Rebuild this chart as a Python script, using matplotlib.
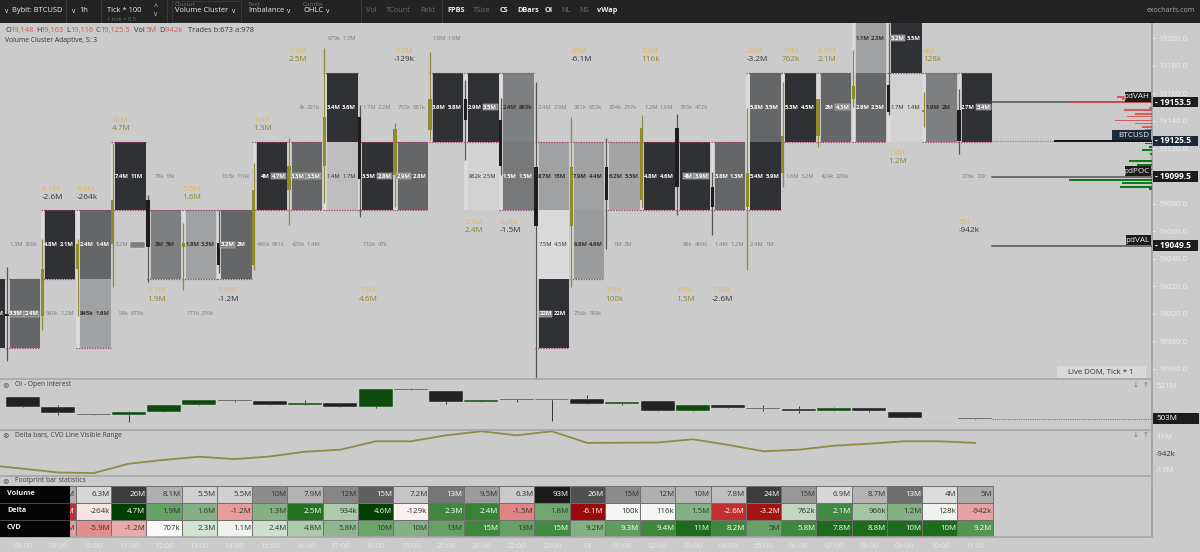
import matplotlib
matplotlib.use('Agg')
import matplotlib.pyplot as plt
import numpy as np
from matplotlib.colors import LinearSegmentedColormap
from matplotlib.patches import Rectangle
from matplotlib.transforms import blended_transform_factory

plt.rcParams['font.family'] = ['Open Sans', 'DejaVu Sans']

# candles, one per hour, 08:00 is bar 0
bars = np.arange(0, 28)
opens = [18999.5, 18998.4, 19032.5, 19050.7, 19082.6, 19048.4, 19051.4, 19035.4, 19089.9, 19107.3,
         19142.9, 19100.7, 19133.4, 19156.0, 19140.7, 19106.6, 19063.7, 19106.6, 19082.6, 19134.9,
         19092.0, 19077.5, 19102.2, 19129.0, 19156.0, 19166.0, 19146.5, 19148.0]
highs = [19034.0, 19054.0, 19054.0, 19124.0, 19086.3, 19066.0, 19075.3, 19109.5, 19127.6, 19193.0,
         19151.6, 19138.5, 19190.0, 19170.0, 19156.7, 19168.0, 19142.9, 19127.6, 19144.3, 19145.0,
         19102.9, 19149.4, 19168.0, 19156.0, 19191.5, 19211.0, 19161.0, 19163.0]
lows = [18966.0, 18988.0, 18998.4, 19019.4, 19023.0, 19017.3, 19029.6, 19031.8, 19064.5, 19080.4,
        19070.3, 19077.5, 19126.2, 19111.6, 19100.7, 18953.4, 19019.4, 19047.0, 19076.8, 19071.7,
        19057.0, 19031.8, 19092.0, 19121.0, 19150.1, 19144.3, 19135.6, 19116.0]
closes = [18998.5, 19032.5, 19050.7, 19082.6, 19048.4, 19051.4, 19035.4, 19089.9, 19107.3, 19142.9,
          19097.9, 19134.2, 19156.0, 19140.7, 19107.3, 19063.7, 19106.6, 19082.6, 19134.9, 19092.0,
          19077.5, 19102.2, 19129.0, 19156.0, 19165.4, 19146.5, 19148.0, 19125.5]

# footprint cells: bar, price row, bid, ask, shade (nan = no box), imbalance side
cell_bar = [-1, 0, 0, 1, 1, 2, 2, 3, 3, 3, 4, 4, 5, 5, 6, 6, 7, 7, 8, 8, 8, 9, 9, 9, 10, 10, 10, 11, 11,
            12, 12, 13, 13, 14, 14, 15, 15, 15, 15, 16, 16, 16, 16, 17, 17, 17, 18, 18, 19, 19, 19,
            20, 20, 21, 21, 21, 22, 22, 23, 23, 24, 24, 25, 25, 26, 27, 27]
cell_row = [19000, 19050, 19000, 19050, 19000, 19050, 19000, 19100, 19050, 19000, 19100, 19050, 19050, 19000,
            19100, 19050, 19100, 19050, 19150, 19100, 19050, 19200, 19150, 19100, 19150, 19100, 19050,
            19150, 19100, 19200, 19150, 19150, 19100, 19150, 19100, 19150, 19100, 19050, 19000,
            19150, 19100, 19050, 19000, 19150, 19100, 19050, 19150, 19100, 19150, 19100, 19050,
            19100, 19050, 19150, 19100, 19050, 19150, 19100, 19150, 19100, 19200, 19150, 19200, 19150,
            19150, 19150, 19100]
cell_bid = ['3.1M', '1.3M', '3.3M', '4.8M', '980k', '2.4M', '845k', '7.4M', '3.2M', '54k', '78k', '3M', '1.8M',
            '171k', '163k', '3.2M', '4M', '445k', '4k', '3.3M', '425k', '870k', '3.4M', '1.4M', '1.7M', '3.5M',
            '132k', '765k', '2.9M', '1.8M', '3.6M', '2.9M', '862k', '2.4M', '1.5M', '2.4M', '8.7M', '7.5M',
            '22M', '381k', '7.9M', '6.8M', '756k', '304k', '6.2M', '1M', '1.2M', '4.8M', '395k', '4M', '98k',
            '3.8M', '1.4M', '5.8M', '5.4M', '2.4M', '5.3M', '1.6M', '2M', '424k', '1.1M', '2.8M', '3.2M',
            '1.7M', '1.9M', '2.7M', '276k']
cell_ask = ['2.9M', '309k', '2.4M', '2.1M', '1.2M', '1.4M', '1.6M', '11M', '3.3M', '675k', '18k', '5M', '3.3M',
            '276k', '116k', '2M', '4.7M', '981k', '291k', '3.5M', '1.4M', '1.3M', '3.6M', '1.7M', '2.2M', '2.8M',
            '47k', '681k', '2.8M', '1.9M', '5.8M', '3.5M', '2.5M', '893k', '1.5M', '2.9M', '13M', '4.5M',
            '22M', '653k', '4.4M', '4.6M', '189k', '237k', '5.5M', '2M', '1.6M', '4.6M', '472k', '3.9M', '499k',
            '1.3M', '1.2M', '3.5M', '5.9M', '1M', '4.5M', '3.2M', '4.3M', '229k', '2.3M', '2.5M', '5.5M',
            '1.4M', '2M', '3.4M', '72k']
n = np.nan
cell_shade = [1, n, .7, 1, n, .7, .37, 1, n, n, n, .56, .37, n, n, .7, 1, n, n, .7, n, n, 1, .21, n, 1, n, n, .7,
              n, 1, 1, .09, .56, .6, n, .37, .05, 1, n, .37, .4, n, n, .35, n, n, 1, n, 1, n,
              .7, n, .7, 1, n, 1, n, .7, n, .37, .7, 1, .09, .56, 1, n]
cell_imb = ['', '', 'ab', '', '', '', '', '', 'a', '', '', '', '', '', '', 'b', 'a', '', '', 'ab', '', '', '', '', '', 'a',
            '', '', 'b', '', '', 'a', '', '', '', '', '', '', 'b', '', '', '', '', '', '', '', '', '', '', 'ab', '',
            '', '', '', '', '', '', '', 'a', '', '', '', 'b', '', '', 'a', '']

# volume / delta labels next to the clusters
label_bars = [1, 2, 3, 4, 5, 6, 7, 8, 10, 11, 13, 14, 16, 17, 18, 19, 20, 21, 22, 23, 25, 26, 27]
label_edge = [19075, 19075, 19125, 19025, 19075, 19025, 19125, 19175, 19025, 19175, 19075, 19075, 19175,
              19025, 19175, 19025, 19025, 19175, 19175, 19175, 19125, 19175, 19075]
label_above = [1, 1, 1, 0, 1, 0, 1, 1, 0, 1, 0, 0, 1, 0, 1, 0, 0, 1, 1, 1, 0, 1, 0]

# stats table, starts at bar 1 (09:00)
volume_labels = ['8.1M', '6.3M', '26M', '8.1M', '5.5M', '5.5M', '10M', '7.9M', '12M', '15M', '7.2M', '13M', '9.5M', '6.3M',
                 '93M', '26M', '15M', '12M', '10M', '7.8M', '24M', '15M', '6.9M', '8.7M', '13M', '4M', '5M']
delta_labels = ['-2.6M', '-264k', '4.7M', '1.9M', '1.6M', '-1.2M', '1.3M', '2.5M', '934k', '4.6M', '-129k', '2.3M', '2.4M',
                '-1.5M', '1.8M', '-6.1M', '100k', '116k', '1.5M', '-2.6M', '-3.2M', '762k', '2.1M', '966k', '1.2M',
                '128k', '-942k']
cvd_labels = ['-5.6M', '-5.9M', '-1.2M', '707k', '2.3M', '1.1M', '2.4M', '4.8M', '5.8M', '10M', '10M', '13M', '15M', '13M',
              '15M', '9.2M', '9.3M', '9.4M', '11M', '8.2M', '5M', '5.8M', '7.8M', '8.8M', '10M', '10M', '9.2M']
volume_shade = [.3, .12, .8, .3, .15, .15, .45, .28, .48, .65, .2, .55, .38, .18, .95, .72, .45, .3, .27, .23, .8, .4,
                .12, .28, .58, .1, .32]
delta_shade = [-.62, -.06, 1, .55, .42, -.25, .42, .82, .28, 1, -.03, .7, .72, -.33, .5, -1, .03, .03, .42, -.62, -.9,
               .2, .68, .3, .42, .04, -.22]
cvd_shade = [-.25, -.3, -.2, .01, .14, .04, .15, .28, .38, .52, .42, .55, .7, .55, .68, .42, .58, .7, .85, .7, .55, .7,
             .85, .85, .85, .85, .62]
time_labels = ['08:00', '09:00', '10:00', '11:00', '12:00', '13:00', '14:00', '15:00', '16:00', '17:00', '18:00',
               '19:00', '20:00', '21:00', '22:00', '23:00', '13', '01:00', '02:00', '03:00', '04:00', '05:00',
               '06:00', '07:00', '08:00', '09:00', '10:00', '11:00']

cvd_bars = np.arange(-1, 28)
cvd_line = [-1.9, -3.7, -5.6, -5.9, -1.2, 0.7, 2.3, 1.1, 2.4, 4.8, 5.8, 10, 10, 13, 15, 13, 15, 9.2, 9.3, 9.4, 11, 8.2,
            5, 5.8, 7.8, 8.8, 10, 10, 9.2]

# open interest, millions
oi_open = [515.0, 509.0, 505.4, 504.9, 506.4, 510.3, 513.1, 512.6, 510.3, 511.4, 509.2, 519.5, 518.4, 512.2, 513.7,
           513.1, 513.9, 510.9, 512.4, 507.1, 510.1, 508.8, 508.0, 506.9, 508.4, 506.5, 502.8, 503.0]
oi_high = [515.0, 510.1, 505.4, 506.9, 510.1, 512.9, 513.1, 512.6, 512.9, 511.4, 519.5, 519.9, 518.4, 512.9, 513.7,
           513.7, 515.9, 512.2, 512.4, 510.1, 510.1, 510.3, 509.7, 509.2, 508.4, 506.5, 503.0, 503.0]
oi_low = [509.4, 504.7, 504.7, 500.9, 506.4, 510.3, 511.8, 510.3, 510.3, 509.2, 508.7, 518.5, 510.7, 512.2, 512.2,
          501.3, 510.9, 510.5, 507.1, 506.9, 508.4, 506.9, 505.8, 506.9, 506.6, 502.8, 502.8, 502.4]
oi_close = [509.4, 505.6, 504.7, 506.2, 510.1, 512.9, 512.7, 510.3, 511.4, 509.2, 519.5, 518.5, 512.2, 512.9, 512.9,
            513.7, 510.9, 512.2, 507.1, 510.1, 508.8, 508.0, 506.9, 508.4, 506.9, 502.8, 503.0, 502.6]

# resting orders on the right of the price scale
dom_ask_price = [19157.5, 19156.0, 19153.5, 19149.5, 19148.0, 19145.0, 19143.0, 19140.5, 19138.0, 19135.5, 19133.5]
dom_ask_size = [35, 30, 83, 3, 28, 17, 25, 37, 17, 10, 7]
dom_bid_price = [19123.5, 19121.0, 19119.0, 19116.0, 19111.0, 19108.0, 19104.5, 19101.0, 19097.0, 19095.0, 19092.0, 19090.5]
dom_bid_size = [7, 3, 10, 2, 23, 15, 7, 17, 83, 30, 32, 3]

# 19100 sits fully behind the pdPOC tag in the reference
price_ticks = [18960, 18980, 19000, 19020, 19040, 19060, 19080, 19120, 19140, 19160, 19180, 19200]
levels = {'pdVAH': 19153.5, 'pdPOC': 19099.5, 'pdVAL': 19049.5}
last_price = 19125.5

BG = '#cbcbcb'
OLIVE = '#8f8a2a'
DARK = '#222222'
BOX_L, BOX_R = -13.8 / 35.26, 17.2 / 35.26
CANDLE_X = -16 / 35.26
XLIM = (-23 / 35.26, (1152 - 23) / 35.26)


def panel(x0, y0, x1, y1):
    ax = fig.add_axes([x0 / 1200, 1 - y1 / 552, (x1 - x0) / 1200, (y1 - y0) / 552])
    ax.set_facecolor('none')
    ax.set_xlim(*XLIM)
    ax.set_xticks([])
    ax.set_yticks([])
    for s in ax.spines.values():
        s.set_visible(False)
    return ax


def ftext(x, y, s, **kw):
    kw.setdefault('va', 'center')
    fig.text(x / 1200, 1 - y / 552, s, **kw)


def frect(x0, y0, x1, y1, **kw):
    fig.add_artist(Rectangle((x0 / 1200, 1 - y1 / 552), (x1 - x0) / 1200, (y1 - y0) / 552,
                             transform=fig.transFigure, **kw))


fig = plt.figure(figsize=(12, 5.52), dpi=100, facecolor=BG)

# ---------- main footprint panel
ax = panel(0, 23, 1152, 379)
ax.set_ylim(18952.6, 19211.1)

shade_cmap = LinearSegmentedColormap.from_list('boxes', ['#e2e2e2', '#2f3134'])
for b, r, bid, ask, s, imb in zip(cell_bar, cell_row, cell_bid, cell_ask, cell_shade, cell_imb):
    boxed = not np.isnan(s)
    if boxed:
        ax.add_patch(Rectangle((b + BOX_L, r - 25), BOX_R - BOX_L, 50, fc=shade_cmap(float(s)), ec='none', zorder=2))
    col = '#7c7c7c'
    if boxed:
        col = '#ffffff' if s >= 0.6 else '#303030'
    for side, txt, ha, off in (('b', bid, 'right', 0.0), ('a', ask, 'left', 0.05)):
        t = ax.text(b + off, r, txt, ha=ha, va='center', fontsize=4.2, color=col, clip_on=True, zorder=5,
                    fontweight='bold' if boxed and s >= 0.35 else 'normal')
        if side in imb:
            t.set_bbox(dict(fc='#7d7f81', ec='#e8e8e8', lw=0.3, pad=0.4))

# value area dotted edges and light gap behind each candle
for i in bars:
    stack = [r for b, r, s in zip(cell_bar, cell_row, cell_shade) if b == i and s >= 0.15]
    allb = [r for b, r, s in zip(cell_bar, cell_row, cell_shade) if b == i and not np.isnan(s)]
    if allb:
        ax.plot([i + CANDLE_X + 0.02] * 2, [min(allb) - 25, max(allb) + 25], color='#dcdcdc', lw=2.6,
                solid_capstyle='butt', zorder=2.5)
    if stack:
        for edge in (min(stack) - 25, max(stack) + 25):
            ax.plot([i + BOX_L - 0.1, i + BOX_R], [edge, edge], color='#a8386f', lw=0.9, ls=(0, (1, 1.1)), zorder=3)

up = np.array(closes) >= np.array(opens)
candle_col = [OLIVE if u else '#1d1d1d' for u in up]
wick_col = ['#8f8a3a' if u else '#555555' for u in up]
ax.vlines(bars + CANDLE_X, lows, highs, colors=wick_col, lw=0.9, zorder=4)
ax.bar(bars + CANDLE_X, np.abs(np.array(closes) - np.array(opens)), bottom=np.minimum(opens, closes),
       width=3.3 / 35.26, color=candle_col, zorder=4)

for b, edge, above in zip(label_bars, label_edge, label_above):
    vol, dlt = volume_labels[b - 1], delta_labels[b - 1]
    x = b + CANDLE_X - 0.02
    off_v, off_d = (15.2, 9.3) if above else (-8.4, -14.2)
    dcol = '#333333' if dlt.startswith('-') else '#8a8530'
    ax.annotate(vol, (x, edge), xytext=(0, off_v), textcoords='offset points', ha='left', va='center',
                fontsize=5.9, color='#dcba5e', zorder=6, annotation_clip=False)
    ax.annotate(dlt, (x, edge), xytext=(0, off_d), textcoords='offset points', ha='left', va='center',
                fontsize=5.9, color=dcol, zorder=6, annotation_clip=False)

# price scale
ax.yaxis.tick_right()
ax.set_yticks(price_ticks)
ax.set_yticklabels(['%.1f' % p for p in price_ticks])
ax.tick_params(axis='y', length=2.5, width=0.8, color='#eeeeee', labelcolor='#eeeeee', labelsize=5.7, pad=2)
ax.spines['right'].set_visible(True)
ax.spines['right'].set_color('#a6a6a6')
ax.spines['right'].set_linewidth(1.5)

# resting orders and previous day levels, tags go on this top axes
dom = panel(0, 23, 1152, 379)
dom.set_ylim(ax.get_ylim())
dom.set_xlim(1152, 0)
dom.barh(dom_ask_price, dom_ask_size, height=1.0, color='#d8474a', alpha=0.85, zorder=2)
dom.barh(dom_bid_price, dom_bid_size, height=1.0, color='#0f7a1a', zorder=2)

line_x0 = 27 + BOX_R
for name, p in levels.items():
    ax.plot([line_x0, XLIM[1]], [p, p], color='#555555', lw=1.1, zorder=3)
ax.plot([line_x0, (1055 - 23) / 35.26], [last_price] * 2, color='#8a8a8a', lw=0.9, ls=(0, (1, 1)), zorder=3)
ax.plot([(1055 - 23) / 35.26, XLIM[1]], [last_price] * 2, color='#111111', lw=1.4, zorder=3)

tr = blended_transform_factory(fig.transFigure, dom.transData)
tags = [('pdVAH', 19153.5, '#1c1c1c', 1125), ('BTCUSD', last_price, '#1b2a3a', 1112),
        ('pdPOC', 19099.5, '#1c1c1c', 1125), ('pdVAL', 19049.5, '#1c1c1c', 1126)]
for name, p, col, x0 in tags:
    dom.add_patch(Rectangle((x0 / 1200, p + 0.3), (1151 - x0) / 1200, 7.4, transform=tr, fc=col, ec='none',
                            clip_on=False, zorder=8))
    dom.text(1149 / 1200, p + 4, name, transform=tr, ha='right', va='center', fontsize=5.9, color='#f0f0f0',
             zorder=9, clip_on=False)
    dom.add_patch(Rectangle((1153 / 1200, p - 3.6), 44.5 / 1200, 7.4, transform=tr, fc=col, ec='none',
                            clip_on=False, zorder=8))
    dom.text(1155 / 1200, p, '- %.1f' % p, transform=tr, ha='left', va='center', fontsize=6.0, color='#ffffff',
             fontweight='bold', zorder=9, clip_on=False)

frect(1057, 366, 1146, 378, fc='#d9d9d9', ec='none', zorder=5)
ftext(1101, 372.5, 'Live DOM, Tick * 1', ha='center', fontsize=5.6, color='#333333', zorder=6)

# ---------- open interest panel
oi = panel(0, 379, 1152, 430)
oi.set_ylim(496.3, 524.9)
oi_up = np.array(oi_close) >= np.array(oi_open)
oi_col = ['#0f4a0f' if u else DARK for u in oi_up]
oi.vlines(bars, oi_low, oi_high, colors='#333333', lw=0.7, zorder=1)
oi.bar(bars, np.abs(np.array(oi_close) - np.array(oi_open)), bottom=np.minimum(oi_open, oi_close), width=34 / 35.26,
       color=oi_col, edgecolor='#dddddd', linewidth=0.3, zorder=2)
oi.plot([27 + 0.48, XLIM[1]], [oi_close[-1]] * 2, color='#777777', lw=0.8, ls=(0, (1, 1)))
oi.yaxis.tick_right()
oi.set_yticks([521], ['521M'])
oi.tick_params(axis='y', length=0, labelcolor='#eeeeee', labelsize=5.6, pad=3)
oi.spines['right'].set_visible(True)
oi.spines['right'].set_color('#a6a6a6')
oi.spines['right'].set_linewidth(1.5)
oi.spines['top'].set_visible(True)
oi.spines['top'].set_color('#a6a6a6')
oi.spines['top'].set_linewidth(1.2)
frect(1153, 413, 1199, 424, fc='#1c1c1c', ec='none', zorder=5)
ftext(1156, 418.5, '503M', ha='left', fontsize=5.8, color='#ffffff', zorder=6)

# ---------- CVD panel
cv = panel(0, 430, 1152, 475.5)
cv.set_ylim(-7.1, 15.65)
cv.plot(cvd_bars, cvd_line, color='#8f8a45', lw=1.3)
cv.spines['top'].set_visible(True)
cv.spines['top'].set_color('#a6a6a6')
cv.spines['top'].set_linewidth(1.2)
cv.spines['right'].set_visible(True)
cv.spines['right'].set_color('#a6a6a6')
cv.spines['right'].set_linewidth(1.5)
cv.spines['bottom'].set_visible(True)
cv.spines['bottom'].set_color('#a6a6a6')
cv.spines['bottom'].set_linewidth(1.2)
cv_r = cv.twinx()
cv_r.set_facecolor('none')
for s in cv_r.spines.values():
    s.set_visible(False)
cv_r.set_ylim(-17.06, 15.82)
cv_r.set_yticks([11, -0.942, -13], ['11M', '-942k', '-13M'])
cv_r.tick_params(axis='y', length=0, labelsize=5.6, labelcolor='#eeeeee', pad=3)
cv_r.get_yticklabels()[1].set_color('#333333')

# ---------- footprint statistics table
tb = panel(0, 486, 1152, 537)
tb.set_ylim(3, 0)
tab_x = np.arange(1, 29) - 0.5
grey_cmap = LinearSegmentedColormap.from_list('vol', ['#f2f2f2', '#101010'])
div_cmap = LinearSegmentedColormap.from_list('delta', [
    (0.0, '#9a0a0a'), (0.2, '#c83030'), (0.325, '#e08080'), (0.4, '#eaa8a8'), (0.5, '#fbfbfb'), (0.6, '#c0d8c0'),
    (0.7, '#88b488'), (0.8, '#5a9a5a'), (0.875, '#2f7f2f'), (0.925, '#1c6c1c'), (1.0, '#004000')])
tb.pcolormesh(tab_x, [0, 1], [volume_shade], cmap=grey_cmap, vmin=0, vmax=1, edgecolors='#707070', linewidth=0.4)
tb.pcolormesh(tab_x, [1, 2, 3], [delta_shade, cvd_shade], cmap=div_cmap, vmin=-1, vmax=1, edgecolors='#707070',
              linewidth=0.4)
for row, (vals, shades) in enumerate([(volume_labels, volume_shade), (delta_labels, delta_shade), (cvd_labels, cvd_shade)]):
    for j, (v, s) in enumerate(zip(vals, shades)):
        dark_cell = s > 0.5 if row == 0 else abs(s) > 0.55
        tb.text(j + 1.47, row + 0.5, v, ha='right', va='center', fontsize=5.7, color='#ffffff' if dark_cell else '#303030',
                zorder=3, clip_on=True)
tb.add_patch(Rectangle((XLIM[0], 0), (70 / 35.26), 3, fc='#050505', ec='none', zorder=4))
for row, name in enumerate(['Volume', 'Delta', 'CVD']):
    tb.text(XLIM[0] + 7 / 35.26, row + 0.45, name, ha='left', va='center', fontsize=5.2, color='#f0f0f0',
            fontweight='bold', zorder=5)
    if row:
        tb.plot([XLIM[0], XLIM[0] + 70 / 35.26], [row, row], color='#666666', lw=0.5, zorder=5)
tb.spines['right'].set_visible(True)
tb.spines['right'].set_color('#a6a6a6')
tb.spines['right'].set_linewidth(1.5)
tb.spines['bottom'].set_visible(True)
tb.spines['bottom'].set_color('#a6a6a6')
tb.spines['bottom'].set_linewidth(1.2)
tb.set_xticks(bars, time_labels)
tb.tick_params(axis='x', length=0, labelcolor='#e6e6e6', labelsize=5.6, pad=4)
frect(1151.2, 475, 1152.8, 486, fc='#a6a6a6', ec='none', zorder=4)

for y, name in [(385, 'OI - Open interest'), (435.5, 'Delta bars, CVD Line Visible Range'), (481, 'Footprint bar statistics')]:
    ftext(6, y, '\u2297', ha='center', fontsize=5.6, color='#555555', family='DejaVu Sans', zorder=6)
    ftext(15, y, name, ha='left', fontsize=4.9, color='#3c3c3c', zorder=6)
for y in (385, 435):
    ftext(1136, y, '\u2193', ha='center', fontsize=5, color='#777777', family='DejaVu Sans', zorder=6)
    ftext(1146, y, '\u2191', ha='center', fontsize=5, color='#777777', family='DejaVu Sans', zorder=6)

# ---------- top toolbar and header
frect(0, 0, 1200, 23, fc='#232323', ec='none', zorder=10)
for x in (66, 101, 167, 361, 442):
    frect(x, 0, x + 0.8, 23, fc='#3a3a3a', ec='none', zorder=11)
frect(172, 1, 241, 21.5, fc='none', ec='#3c3c3c', lw=0.6, zorder=11)
WHITE = '#efefef'
DIM = '#6f6f6f'
for x, s in [(12, 'Bybit: BTCUSD'), (79, '1h'), (107, 'Tick * 100'), (175, 'Volume Cluster'), (248, 'Imbalance'), (303, 'OHLC')]:
    ftext(x, 11, s, ha='left', fontsize=5.4, color=WHITE, zorder=12)
for x in (7, 74, 234, 289, 328):
    ftext(x, 11.5, 'v', ha='center', fontsize=4.8, color=WHITE, zorder=12)
ftext(107, 19.3, '1 tick = 0.5', ha='left', fontsize=4.2, color=DIM, zorder=12)
ftext(156, 7.5, '^', ha='center', fontsize=5.5, color='#cccccc', zorder=12)
ftext(156, 15, 'v', ha='center', fontsize=4.8, color='#cccccc', zorder=12)
for x, s in [(175, 'Cluster'), (248, 'Text'), (303, 'Candle')]:
    ftext(x, 4.3, s, ha='left', fontsize=4.6, color=DIM, zorder=12)
for x, s, col, w in [(366, 'Vol', DIM, 'normal'), (386, 'TCount', DIM, 'normal'), (420, 'Rekt', DIM, 'normal'),
                     (447, 'FPBS', WHITE, 'bold'), (473, 'TSize', DIM, 'normal'), (500, 'CS', WHITE, 'bold'),
                     (517, 'DBars', WHITE, 'bold'), (545, 'OI', WHITE, 'bold'), (561, 'NL', DIM, 'normal'),
                     (579, 'NS', DIM, 'normal'), (597, 'vWap', WHITE, 'bold')]:
    ftext(x, 11, s, ha='left', fontsize=5.3, color=col, fontweight=w, zorder=12)
ftext(1195, 11, 'exocharts.com', ha='right', fontsize=5.0, color='#a8a8a8', zorder=12)

RED = '#e0504a'
for x, s, col in [(5, 'O', '#333333'), (10, '19,148', RED), (36, 'H', '#333333'), (40, '19,163', RED), (66, 'L', '#333333'),
                  (70, '19,116', RED), (95, 'C', '#333333'), (100, '19,125.5', RED), (134, 'Vol', '#333333'), (146, '5M', RED),
                  (159, 'D', '#333333'), (164, '-942k', RED), (188, 'Trades b:673 a:978', '#333333')]:
    ftext(x, 30.5, s, ha='left', fontsize=5.4, color=col, zorder=6)
ftext(5, 41, 'Volume Cluster Adaptive, S: 3', ha='left', fontsize=4.9, color='#333333', zorder=6)

fig.savefig('out.png', dpi=100, facecolor=BG)
